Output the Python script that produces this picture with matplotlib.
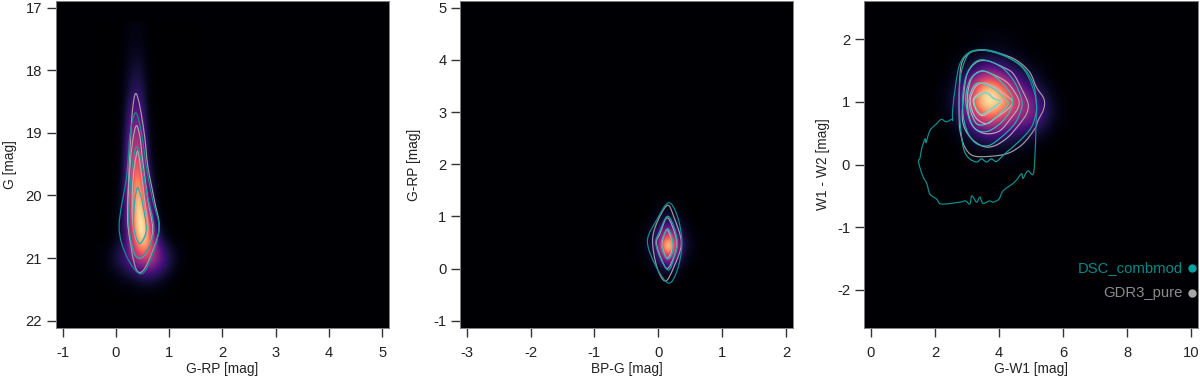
import numpy as np
import matplotlib
matplotlib.use("Agg")
import matplotlib.pyplot as plt
from matplotlib.path import Path
from matplotlib.patches import PathPatch

plt.rcParams['font.family'] = ['Liberation Sans', 'DejaVu Sans']
plt.rcParams['font.size'] = 10.6
plt.rcParams['axes.unicode_minus'] = False

DSC_COLS = ['#0f9090', '#18a0a0', '#20b0ac', '#30c0b0', '#48d0b8', '#60e0c0']
GDR_COLS = ['#a09ca0', '#aca4ac', '#b8a8b8', '#c4b0c4', '#d0b8d0']

# --- G-RP vs G
cmd_x = [-0.3, -0.15, 0, 0.15, 0.3, 0.45, 0.6, 0.75, 0.9, 1.05, 1.2, 1.35, 1.5]
cmd_y = [17.4, 17.7, 18.0, 18.3, 18.6, 18.9, 19.2, 19.5, 19.8, 20.1, 20.4, 20.7, 21.0, 21.3, 21.6]
cmd_dens = [
    [0, 0, 0, 0.01, 0.03, 0.03, 0.01, 0, 0, 0, 0, 0, 0],
    [0, 0, 0, 0.01, 0.05, 0.05, 0.01, 0, 0, 0, 0, 0, 0],
    [0, 0, 0, 0.02, 0.08, 0.10, 0.02, 0, 0, 0, 0, 0, 0],
    [0, 0, 0, 0.02, 0.13, 0.15, 0.02, 0, 0, 0, 0, 0, 0],
    [0, 0, 0, 0.03, 0.22, 0.24, 0.03, 0, 0, 0, 0, 0, 0],
    [0, 0, 0, 0.04, 0.33, 0.35, 0.05, 0, 0, 0, 0, 0, 0],
    [0, 0, 0, 0.05, 0.44, 0.48, 0.07, 0, 0, 0, 0, 0, 0],
    [0, 0, 0, 0.06, 0.53, 0.62, 0.10, 0.01, 0, 0, 0, 0, 0],
    [0, 0, 0.01, 0.08, 0.60, 0.78, 0.18, 0.02, 0, 0, 0, 0, 0],
    [0, 0, 0.01, 0.10, 0.60, 0.92, 0.34, 0.03, 0, 0, 0, 0, 0],
    [0, 0, 0.02, 0.12, 0.55, 1.00, 0.66, 0.07, 0.01, 0, 0, 0, 0],
    [0, 0, 0.03, 0.10, 0.44, 0.90, 0.84, 0.24, 0.04, 0.01, 0, 0, 0],
    [0.02, 0.05, 0.12, 0.20, 0.33, 0.46, 0.54, 0.44, 0.26, 0.11, 0.04, 0.01, 0],
    [0, 0.01, 0.02, 0.04, 0.06, 0.09, 0.10, 0.08, 0.05, 0.02, 0, 0, 0],
    [0, 0, 0, 0, 0, 0, 0, 0, 0, 0, 0, 0, 0],
]
cmd_dsc = [
    [(0.37, 18.68), (0.27, 19.0), (0.20, 19.7), (0.06, 20.49), (0.20, 20.97), (0.45, 21.25), (0.63, 21.07),
     (0.81, 20.54), (0.69, 20.07), (0.58, 19.59), (0.48, 19.0)],
    [(0.38, 19.23), (0.29, 19.64), (0.24, 20.38), (0.32, 20.86), (0.45, 21.0), (0.63, 20.81), (0.71, 20.49),
     (0.58, 19.96), (0.47, 19.43)],
    [(0.40, 19.88), (0.35, 20.12), (0.33, 20.49), (0.41, 20.73), (0.48, 20.75), (0.57, 20.54), (0.51, 20.17),
     (0.45, 19.96)],
]
cmd_gdr = [
    [(0.37, 18.37), (0.31, 18.64), (0.27, 19.17), (0.23, 19.96), (0.23, 20.49), (0.34, 21.07), (0.45, 21.23),
     (0.60, 21.07), (0.81, 20.54), (0.72, 20.07), (0.60, 19.54), (0.54, 19.06), (0.45, 18.58)],
    [(0.38, 18.89), (0.30, 19.22), (0.23, 19.96), (0.23, 20.49), (0.34, 20.91), (0.46, 21.0), (0.60, 20.86),
     (0.69, 20.54), (0.60, 20.07), (0.50, 19.43), (0.45, 19.06)],
    [(0.40, 19.3), (0.32, 19.75), (0.31, 20.38), (0.38, 20.7), (0.48, 20.74), (0.60, 20.54), (0.54, 20.07),
     (0.45, 19.48)],
]

# --- BP-G vs G-RP
cc_x = [-0.35, -0.25, -0.15, -0.05, 0.05, 0.15, 0.25, 0.35, 0.45, 0.55, 0.65]
cc_y = [1.22, 1.02, 0.82, 0.62, 0.42, 0.22, 0.02, -0.18]
cc_dens = [
    [0, 0, 0, 0.01, 0.02, 0.03, 0.02, 0.01, 0, 0, 0],
    [0, 0, 0.01, 0.03, 0.05, 0.07, 0.05, 0.03, 0.01, 0, 0],
    [0, 0.01, 0.03, 0.06, 0.14, 0.22, 0.14, 0.06, 0.03, 0.01, 0],
    [0.01, 0.02, 0.05, 0.12, 0.38, 0.60, 0.38, 0.12, 0.05, 0.02, 0.01],
    [0.01, 0.03, 0.07, 0.18, 0.66, 1.00, 0.66, 0.18, 0.07, 0.03, 0.01],
    [0.01, 0.02, 0.04, 0.10, 0.28, 0.50, 0.28, 0.10, 0.04, 0.02, 0.01],
    [0, 0, 0.02, 0.04, 0.08, 0.14, 0.08, 0.04, 0.02, 0, 0],
    [0, 0, 0, 0.01, 0.02, 0.03, 0.02, 0.01, 0, 0, 0],
]
cc_dsc = [
    [(0.16, 1.26), (-0.02, 0.94), (-0.17, 0.53), (-0.04, 0.05), (0.16, -0.28), (0.30, -0.02), (0.37, 0.49), (0.30, 1.0)],
    [(0.14, 1.0), (0.01, 0.68), (-0.04, 0.49), (0.04, 0.18), (0.16, -0.03), (0.25, 0.21), (0.30, 0.49), (0.24, 0.81)],
    [(0.14, 0.76), (0.06, 0.56), (0.05, 0.43), (0.09, 0.27), (0.15, 0.18), (0.22, 0.30), (0.23, 0.49), (0.19, 0.68)],
]
cc_gdr = [
    [(0.14, 1.21), (-0.02, 0.88), (-0.09, 0.53), (-0.02, 0.02), (0.11, -0.24), (0.24, 0.02), (0.36, 0.49), (0.24, 1.0)],
    [(0.13, 0.97), (0.03, 0.68), (-0.03, 0.49), (0.05, 0.18), (0.14, 0), (0.24, 0.21), (0.29, 0.49), (0.22, 0.81)],
    [(0.13, 0.74), (0.07, 0.56), (0.06, 0.43), (0.10, 0.27), (0.14, 0.2), (0.20, 0.30), (0.22, 0.49), (0.18, 0.65)],
]

# --- G-W1 vs W1-W2
wise_x = [2.2, 2.6, 3.0, 3.5, 4.0, 4.5, 5.0, 5.5, 6.0]
wise_y = [2.0, 1.75, 1.5, 1.25, 1.0, 0.75, 0.5, 0.25, 0]
wise_dens = [
    [0, 0, 0.01, 0.02, 0.02, 0.01, 0, 0, 0],
    [0, 0.01, 0.03, 0.06, 0.05, 0.03, 0.01, 0, 0],
    [0, 0.03, 0.12, 0.26, 0.20, 0.09, 0.05, 0.01, 0],
    [0.01, 0.07, 0.44, 0.84, 0.60, 0.28, 0.13, 0.03, 0],
    [0.02, 0.11, 0.62, 1.00, 0.84, 0.50, 0.32, 0.09, 0.01],
    [0.01, 0.07, 0.38, 0.66, 0.54, 0.38, 0.34, 0.11, 0.01],
    [0, 0.03, 0.12, 0.24, 0.20, 0.14, 0.11, 0.03, 0],
    [0, 0.01, 0.03, 0.05, 0.05, 0.04, 0.02, 0, 0],
    [0, 0, 0.01, 0.01, 0.01, 0.01, 0, 0, 0],
]
wise_dsc = [
    [(2.55, 0.70), (2.55, 0.86), (2.65, 1.29), (2.78, 1.61), (3.04, 1.78), (3.40, 1.83), (3.82, 1.79), (4.34, 1.69),
     (4.75, 1.53), (5.01, 1.29), (5.17, 0.97), (5.15, 0.54), (5.13, 0.2), (5.07, -0.15), (4.9, -0.1), (4.75, -0.22),
     (4.7, -0.15), (4.49, -0.28), (4.13, -0.42), (4.0, -0.55), (3.82, -0.6), (3.7, -0.58), (3.5, -0.62), (3.4, -0.52),
     (3.3, -0.6), (3.15, -0.5), (3.09, -0.63), (2.95, -0.58), (2.78, -0.6), (2.2, -0.63), (2.05, -0.55), (1.84, -0.47),
     (1.74, -0.3), (1.63, -0.2), (1.53, -0.05), (1.48, 0.06), (1.53, 0.1), (1.58, 0.25), (1.69, 0.41), (1.72, 0.35),
     (1.84, 0.54), (2.05, 0.65), (2.2, 0.72), (2.35, 0.68), (2.52, 0.72)],
    [(2.76, 1.02), (2.78, 1.34), (2.88, 1.58), (3.09, 1.78), (3.5, 1.83), (3.92, 1.79), (4.34, 1.69), (4.75, 1.55),
     (5.07, 1.29), (5.17, 0.97), (5.15, 0.81), (5.01, 0.59), (4.65, 0.38), (4.18, 0.17), (3.92, 0.05), (3.76, 0.09),
     (3.61, 0.04), (3.45, 0.09), (3.3, 0.04), (3.04, 0.11), (2.88, 0.28), (2.78, 0.70)],
    [(2.86, 0.97), (2.96, 1.39), (3.25, 1.63), (3.61, 1.66), (4.13, 1.53), (4.49, 1.31), (4.7, 1.05), (4.7, 0.89),
     (4.49, 0.65), (4.08, 0.44), (3.66, 0.30), (3.25, 0.35), (2.96, 0.59)],
    [(2.96, 1.05), (3.09, 1.34), (3.35, 1.47), (3.66, 1.47), (4.08, 1.31), (4.39, 1.1), (4.39, 0.91), (4.13, 0.70),
     (3.71, 0.54), (3.35, 0.54), (3.09, 0.70)],
    [(3.07, 1.05), (3.19, 1.23), (3.4, 1.3), (3.82, 1.21), (4.13, 1.07), (4.29, 0.97), (4.03, 0.81), (3.61, 0.65),
     (3.3, 0.65), (3.11, 0.86)],
    [(3.22, 1.03), (3.4, 1.1), (3.61, 1.14), (3.82, 1.05), (4.03, 1.0), (3.76, 0.89), (3.45, 0.8), (3.28, 0.89)],
]
wise_gdr = [
    [(2.83, 1.61), (3.09, 1.78), (3.5, 1.82), (4.03, 1.77), (4.55, 1.66), (4.96, 1.47), (5.17, 1.23), (5.4, 1.05),
     (5.4, 0.89), (5.22, 0.70), (5.12, 0.57), (4.75, 0.33), (4.29, 0.18), (3.71, 0.13), (3.19, 0.14), (2.93, 0.28),
     (2.78, 0.54), (2.75, 0.86), (2.76, 1.23)],
    [(2.9, 1.13), (3.01, 1.45), (3.3, 1.63), (3.66, 1.65), (4.13, 1.55), (4.44, 1.45), (4.7, 1.21), (4.91, 0.97),
     (4.86, 0.81), (4.65, 0.65), (4.29, 0.44), (3.87, 0.30), (3.5, 0.29), (3.09, 0.44), (2.86, 0.70)],
    [(3.01, 1.07), (3.14, 1.37), (3.45, 1.49), (3.87, 1.42), (4.29, 1.29), (4.6, 1.05), (4.6, 0.91), (4.39, 0.75),
     (4.03, 0.54), (3.61, 0.49), (3.25, 0.57), (3.07, 0.75)],
    [(3.11, 1.05), (3.25, 1.23), (3.5, 1.3), (3.87, 1.23), (4.23, 1.1), (4.42, 1.0), (4.29, 0.89), (3.92, 0.75),
     (3.61, 0.65), (3.3, 0.73), (3.14, 0.89)],
    [(3.19, 1.02), (3.35, 1.12), (3.61, 1.15), (3.87, 1.05), (4.08, 1.0), (3.82, 0.89), (3.5, 0.78), (3.3, 0.86)],
]

legend_names = ['DSC_combmod', 'GDR3_pure']


def closed_curve(pts):
    # closed bezier through the points (catmull-rom handles)
    p = np.array(pts, dtype=float)
    n = len(p)
    verts = [p[0]]
    codes = [Path.MOVETO]
    for i in range(n):
        p0, p1, p2, p3 = p[i - 1], p[i], p[(i + 1) % n], p[(i + 2) % n]
        verts += [p1 + (p2 - p0) / 6, p2 - (p3 - p1) / 6, p2]
        codes += [Path.CURVE4] * 3
    return Path(verts, codes)


def panel(ax, xs, ys, dens, dsc, gdr):
    ax.set_facecolor('#000004')
    dx = (xs[1] - xs[0]) / 2
    dy = abs(ys[1] - ys[0]) / 2
    ax.imshow(dens, cmap='magma', vmin=0, vmax=0.9, aspect='auto', interpolation='bicubic',
              origin='upper' if ys[0] > ys[-1] else 'lower',
              extent=[xs[0] - dx, xs[-1] + dx, min(ys) - dy, max(ys) + dy])
    for i, c in enumerate(gdr):
        ax.add_patch(PathPatch(closed_curve(c), fc='none', ec=GDR_COLS[i], lw=0.85))
    for i, c in enumerate(dsc):
        ax.add_patch(PathPatch(closed_curve(c), fc='none', ec=DSC_COLS[i], lw=0.85))
    ax.tick_params(length=6.3, width=1.0, color='#333333', labelcolor='#222222')
    ax.tick_params(axis='x', pad=6.5)
    ax.tick_params(axis='y', pad=3.6)
    for s in ax.spines.values():
        s.set_linewidth(0.7)
        s.set_color('#808080')


fig = plt.figure(figsize=(12, 3.86), dpi=100)
W, H = 1200, 386
ax1 = fig.add_axes([56 / W, 1 - 328 / H, 333 / W, 327 / H])
ax2 = fig.add_axes([460 / W, 1 - 328 / H, 333.3 / W, 327 / H])
ax3 = fig.add_axes([864 / W, 1 - 328 / H, 334 / W, 327 / H])

panel(ax1, cmd_x, cmd_y, cmd_dens, cmd_dsc, cmd_gdr)
ax1.set_xlim(-1.126, 5.13)
ax1.set_ylim(22.117, 16.893)
ax1.set_xticks([-1, 0, 1, 2, 3, 4, 5])
ax1.set_yticks([17, 18, 19, 20, 21, 22])
ax1.set_xlabel('G-RP [mag]', fontsize=9.9, color='#222222')
ax1.set_ylabel('G [mag]', fontsize=9.9, color='#222222')

panel(ax2, cc_x, cc_y, cc_dens, cc_dsc, cc_gdr)
ax2.set_xlim(-3.105, 2.114)
ax2.set_ylim(-1.14, 5.128)
ax2.set_xticks([-3, -2, -1, 0, 1, 2])
ax2.set_yticks([-1, 0, 1, 2, 3, 4, 5])
ax2.set_xlabel('BP-G [mag]', fontsize=9.9, color='#222222')
ax2.set_ylabel('G-RP [mag]', fontsize=9.9, color='#222222')

panel(ax3, wise_x, wise_y, wise_dens, wise_dsc, wise_gdr)
ax3.set_xlim(-0.22, 10.22)
ax3.set_ylim(-2.606, 2.606)
ax3.set_xticks([0, 2, 4, 6, 8, 10])
ax3.set_yticks([-2, -1, 0, 1, 2])
ax3.set_xlabel('G-W1 [mag]', fontsize=9.9, color='#222222')
ax3.set_ylabel('W1 - W2 [mag]', fontsize=9.9, color='#222222')

for ax, ylab_x in zip([ax1, ax2, ax3], [-0.138, -0.138, -0.123]):
    ax.xaxis.label.set_va('center')
    ax.yaxis.label.set_va('center')
    ax.xaxis.set_label_coords(0.5, -0.124)
    ax.yaxis.set_label_coords(ylab_x, 0.5)

# legend as text + dot, right aligned
for frac, name, col, dot in zip([0.1835, 0.108], legend_names, ['#008b8b', '#8c8c8c'], ['#00a3a3', '#a8a8a8']):
    ax3.text(0.955, frac, name, color=col, transform=ax3.transAxes, ha='right', va='center', fontsize=10.7)
    ax3.plot([0.982], [frac], 'o', ms=5, color=dot, transform=ax3.transAxes)

fig.savefig('out.png', dpi=100)
